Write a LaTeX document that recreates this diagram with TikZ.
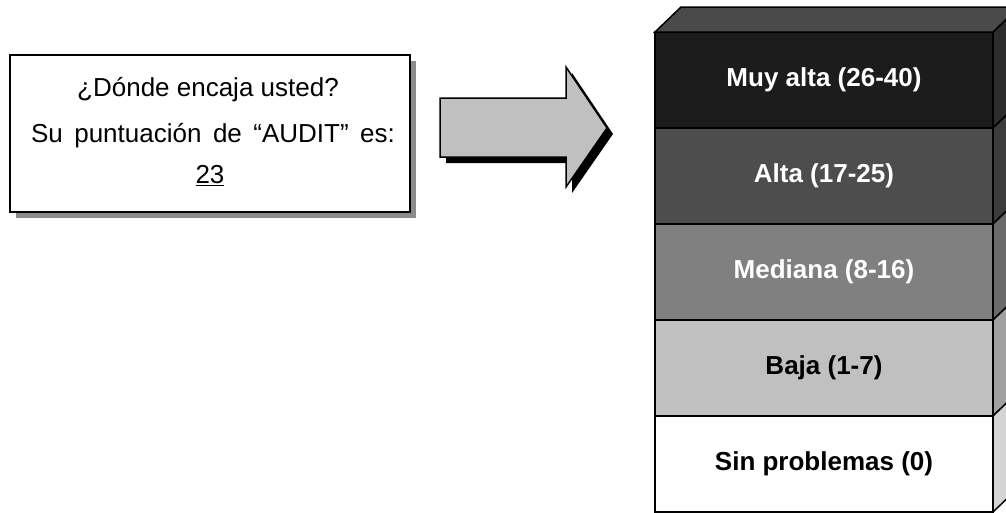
\documentclass[tikz,border=0pt]{standalone}
\usepackage{fontspec}
\setmainfont{Liberation Sans}
\definecolor{cA}{HTML}{1C1C1C}
\definecolor{cAs}{HTML}{2C2C2C}
\definecolor{cAt}{HTML}{4A4A4A}
\definecolor{cB}{HTML}{4D4D4D}
\definecolor{cBs}{HTML}{3C3C3C}
\definecolor{cC}{HTML}{808080}
\definecolor{cCs}{HTML}{6A6A6A}
\definecolor{cD}{HTML}{C0C0C0}
\definecolor{cDs}{HTML}{A0A0A0}
\definecolor{cE}{HTML}{FFFFFF}
\definecolor{cEs}{HTML}{D4D4D4}
\definecolor{shad}{HTML}{8C8C8C}
\tikzset{
  edge/.style={draw=black, line width=1.5pt, line join=miter},
  boxtext/.style={font=\fontsize{26}{30}\selectfont, inner sep=0pt, anchor=center},
  laytext/.style={font=\bfseries\fontsize{26}{30}\selectfont, inner sep=0pt, anchor=center},
}
\begin{document}
\begin{tikzpicture}[x=1pt,y=-1pt]
\useasboundingbox (0,0) rectangle (1006,512);
\clip (0,0) rectangle (1006,512);
% text box with shadow
\fill[shad] (16,61) rectangle (416,218);
\draw[edge, fill=white] (10,55) rectangle (410,212);
\node[boxtext] (q1) at (208,90) {¿Dónde encaja usted?};
\node[boxtext] (q2) at (213,136) {\spaceskip=11.5pt Su puntuación de “AUDIT” es:};
\node[boxtext] (q3) at (210,176) {\underline{23}};
% arrow with shadow
\fill[black] (446,104) -- (572,104) -- (572,73) -- (613,134) -- (572,193) -- (572,163) -- (446,163) -- cycle;
\draw[edge, fill=cD] (440,98) -- (566,98) -- (566,67) -- (607,128) -- (566,187) -- (566,157) -- (440,157) -- cycle;
% stacked blocks
\foreach \i/\f/\s in {0/cA/cAs,1/cB/cBs,2/cC/cCs,3/cD/cDs,4/cE/cEs}{
  \pgfmathsetmacro{\yt}{32+96*\i}
  \pgfmathsetmacro{\yb}{128+96*\i}
  \draw[edge, fill=\s] (993,\yt) -- (1019,\yt-25) -- (1019,\yb-25) -- (993,\yb) -- cycle;
  \draw[edge, fill=\f] (655,\yt) rectangle (993,\yb);
}
\draw[edge, fill=cAt] (655,32) -- (681,7) -- (1019,7) -- (993,32) -- cycle;
\node[laytext, text=white] (l1) at (824,80) {Muy alta (26-40)};
\node[laytext, text=white] (l2) at (824,176) {Alta (17-25)};
\node[laytext, text=white] (l3) at (824,272) {Mediana (8-16)};
\node[laytext, text=black] (l4) at (824,368) {Baja (1-7)};
\node[laytext, text=black] (l5) at (824,464) {Sin problemas (0)};
\end{tikzpicture}
\end{document}
